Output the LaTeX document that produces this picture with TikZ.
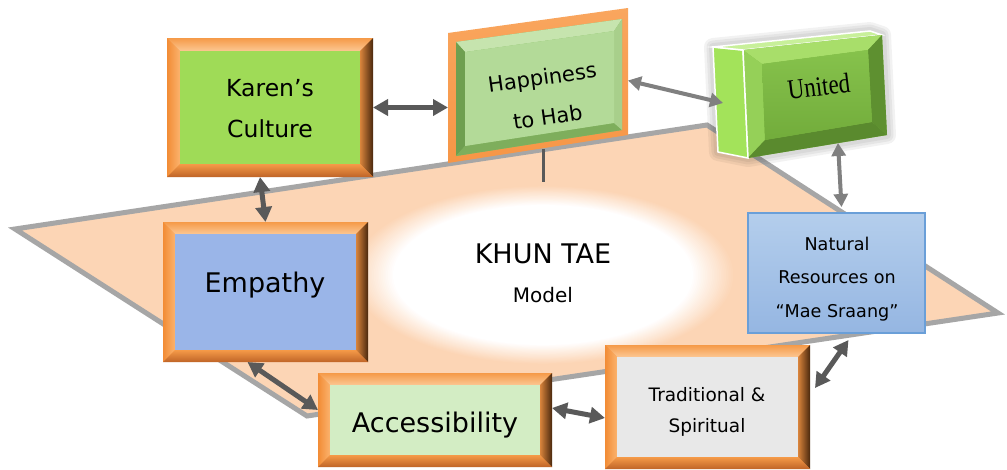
\documentclass[tikz,border=0pt]{standalone}
\usepackage{fontspec}
\setmainfont{DejaVu Sans}
\newfontfamily\unitedfont{Liberation Serif}
\usetikzlibrary{arrows.meta,calc}

\definecolor{peach}{HTML}{FCD5B5}
\definecolor{shadowgray}{HTML}{A6A6A6}
\definecolor{frmid}{HTML}{F79646}
\definecolor{frtop}{HTML}{F59A48}
\definecolor{frtopin}{HTML}{FCC793}
\definecolor{frleft}{HTML}{F28C35}
\definecolor{frleftin}{HTML}{FBB36E}
\definecolor{frrightin}{HTML}{D9843C}
\definecolor{frright}{HTML}{4A280D}
\definecolor{frbotin}{HTML}{F59A48}
\definecolor{frbot}{HTML}{BF6427}
\definecolor{karengreen}{HTML}{9FDB57}
\definecolor{empblue}{HTML}{9AB5E8}
\definecolor{accgreen}{HTML}{D3EDC4}
\definecolor{tradgray}{HTML}{E8E8E8}
\definecolor{nattop}{HTML}{B4CEEC}
\definecolor{natbot}{HTML}{95B6E2}
\definecolor{natline}{HTML}{6A9FD8}
\definecolor{hapbev}{HTML}{8DBF6B}
\definecolor{hapbevtop}{HTML}{C6E4AE}
\definecolor{hapbevleft}{HTML}{6F9F50}
\definecolor{hapbevbot}{HTML}{7EAE5C}
\definecolor{hapbevright}{HTML}{A8CF8B}
\definecolor{hapin}{HTML}{B3DA98}
\definecolor{hapor}{HTML}{F9A65E}
\definecolor{unside}{HTML}{A3E35A}
\definecolor{untop}{HTML}{C8F09A}
\definecolor{unfront}{HTML}{7FBA44}
\definecolor{unbevtop}{HTML}{A8DE6A}
\definecolor{unbevleft}{HTML}{95D058}
\definecolor{unbevright}{HTML}{5E9030}
\definecolor{unbevbot}{HTML}{5A8A2E}
\definecolor{uninTop}{HTML}{86C24C}
\definecolor{uninBot}{HTML}{72AC3B}
\definecolor{arrdark}{HTML}{595959}
\definecolor{arrlight}{HTML}{808080}

\newcommand{\bevframe}[6]{%
  \pgfmathsetmacro{\bxa}{#1+#5}\pgfmathsetmacro{\bya}{#2+#5}%
  \pgfmathsetmacro{\bxb}{#3-#5}\pgfmathsetmacro{\byb}{#4-#5}%
  \fill[frmid] (#1,#2) rectangle (#3,#4);
  \shade[top color=frtop, bottom color=frtopin] (#1,#2) -- (#3,#2) -- (\bxb,\bya) -- (\bxa,\bya) -- cycle;
  \shade[left color=frleft, right color=frleftin] (#1,#2) -- (\bxa,\bya) -- (\bxa,\byb) -- (#1,#4) -- cycle;
  \shade[left color=frrightin, right color=frright] (#3,#2) -- (#3,#4) -- (\bxb,\byb) -- (\bxb,\bya) -- cycle;
  \shade[top color=frbotin, bottom color=frbot] (#1,#4) -- (#3,#4) -- (\bxb,\byb) -- (\bxa,\byb) -- cycle;
  \fill[#6] (\bxa,\bya) rectangle (\bxb,\byb);
}

\tikzset{
  shapebox/.style={rectangle, inner sep=0pt, outer sep=0pt},
  lbl/.style={inner sep=0pt, text=black, align=center},
  darr/.style={draw=arrdark, line width=5pt, {Triangle[length=15pt,width=16pt]}-{Triangle[length=15pt,width=16pt]}},
  larr/.style={draw=arrlight, line width=4pt, {Triangle[length=13pt,width=14pt]}-{Triangle[length=13pt,width=14pt]}},
  stemline/.style={draw=arrdark, line width=3pt}
}

\begin{document}
\begin{tikzpicture}[x=1pt,y=-1pt]
\useasboundingbox (0,0) rectangle (1007,469);
\fill[white] (0,0) rectangle (1007,469);

% base plane
\draw[draw=shadowgray, line width=5pt, fill=peach, line join=miter]
  (15,229) -- (707,125) -- (998,313) -- (307,416) -- cycle;
% soft white glow
\foreach \k in {0,...,24} {
  \pgfmathsetmacro{\fac}{1.28-0.28*\k/24}
  \pgfmathsetmacro{\pct}{100-100*\k/24}
  \fill[peach!\pct!white] (543,275) ellipse [x radius=150*\fac, y radius=70*\fac];
}

% Karen's Culture
\bevframe{167}{38}{373}{177}{13}{karengreen}
\node[shapebox, minimum width=206, minimum height=139] (karen) at (270,107.5) {};
\node[lbl, font=\fontsize{23.5}{41}\selectfont] (karentext) at (270,109) {Karen’s\\Culture};

% Empathy
\bevframe{163}{222}{368}{362}{12}{empblue}
\node[shapebox, minimum width=205, minimum height=140] (empathy) at (265.5,292) {};
\node[lbl, anchor=base, font=\fontsize{27}{32}\selectfont] (emptext) at (265,292) {Empathy};

% Accessibility
\bevframe{318}{373}{552}{467}{12}{accgreen}
\node[shapebox, minimum width=234, minimum height=94] (access) at (435,420) {};
\node[lbl, anchor=base, font=\fontsize{27}{32}\selectfont] (acctext) at (435,432) {Accessibility};

% Traditional & Spiritual
\bevframe{605}{345}{810}{469}{12}{tradgray}
\node[shapebox, minimum width=205, minimum height=124] (trad) at (707.5,407) {};
\node[lbl, font=\fontsize{18.5}{31}\selectfont] (tradtext) at (707,412) {Traditional \&\\Spiritual};

% Natural Resources
\node[shapebox, minimum width=177, minimum height=120, top color=nattop, bottom color=natbot, draw=natline, line width=1.2pt] (nat) at (836.5,273) {};
\node[lbl, font=\fontsize{17.6}{33.5}\selectfont] (nattext) at (837,279) {Natural\\Resources on\\“Mae Sraang”};

% Happiness to Hab
\shade[top color=hapor, bottom color=frmid] (448,33) -- (628,8) -- (628,135) -- (448,163) -- cycle;
\fill[hapbev] (456,42) -- (622,19) -- (622,130) -- (456,156) -- cycle;
\fill[hapbevtop] (456,42) -- (622,19) -- (614,31) -- (465,52) -- cycle;
\fill[hapbevleft] (456,42) -- (465,52) -- (465,146) -- (456,156) -- cycle;
\fill[hapbevbot] (456,156) -- (622,130) -- (614,123) -- (465,146) -- cycle;
\fill[hapbevright] (622,19) -- (622,130) -- (614,123) -- (614,31) -- cycle;
\fill[hapin] (465,52) -- (614,31) -- (614,123) -- (465,146) -- cycle;
\node[shapebox, minimum width=180, minimum height=155] (hap) at (538,85.5) {};
\node[lbl, rotate=8, font=\fontsize{21}{40}\selectfont] (haptext) at (545,97) {Happiness\\to Hab};

% United (3D block)
\foreach \w in {18,13,8} {
  \draw[black, opacity=0.05, line width=\w pt, line join=round]
    (713,47) -- (870,31) -- (882,35) -- (887,135) -- (748,158) -- (718,152) -- cycle;
}
\fill[unside, draw=white, line width=1.5pt] (713,47) -- (743,50) -- (748,158) -- (718,152) -- cycle;
\fill[untop, draw=white, line width=1.5pt] (713,47) -- (870,31) -- (882,35) -- (743,50) -- cycle;
\fill[unfront] (743,50) -- (882,35) -- (887,135) -- (748,158) -- cycle;
\fill[unbevtop] (743,50) -- (882,35) -- (868,50) -- (762,64) -- cycle;
\fill[unbevleft] (743,50) -- (762,64) -- (765,140) -- (748,158) -- cycle;
\fill[unbevright] (882,35) -- (887,135) -- (872,122) -- (868,50) -- cycle;
\fill[unbevbot] (748,158) -- (887,135) -- (872,122) -- (765,140) -- cycle;
\shade[top color=uninTop, bottom color=uninBot] (762,64) -- (868,50) -- (872,122) -- (765,140) -- cycle;
\draw[white, line width=1.5pt] (743,50) -- (748,158);
\node[shapebox, minimum width=170, minimum height=110] (united) at (800,103) {};
\node[lbl, anchor=base, rotate=7, font=\unitedfont\fontsize{28}{32}\selectfont] (unitedtext) at (820,96) {\scalebox{0.82}[1]{United}};

% KHUN TAE Model
\node[lbl, anchor=base, font=\fontsize{27}{32}\selectfont] (khun) at (543,263) {KHUN TAE};
\node[lbl, anchor=base, font=\fontsize{20}{24}\selectfont] (model) at (543,302) {Model};

% connectors
\draw[stemline] ([xshift=5pt,yshift=14pt]hap.south) -- ++(0,33);
\draw[darr] (karen.east) -- (karen.east -| hap.west);
\draw[larr] ([yshift=5pt]hap.east) -- ([xshift=8pt]united.west);
\draw[larr] ([xshift=38pt,yshift=15pt]united.south) -- ([xshift=5pt,yshift=6pt]nat.north);
\draw[darr] ([xshift=-10pt]karen.south) -- (empathy.north);
\draw[darr] ([xshift=-18pt]empathy.south) -- ([yshift=10pt]access.west);
\draw[darr] ([yshift=12pt]access.east) -- ([yshift=-11pt]trad.west);
\draw[darr] ([xshift=5pt,yshift=19pt]trad.east) -- ([xshift=12pt,yshift=-7pt]nat.south);
\end{tikzpicture}
\end{document}
